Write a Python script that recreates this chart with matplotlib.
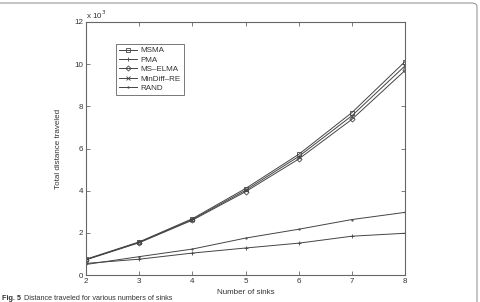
import matplotlib
matplotlib.use("Agg")
import matplotlib.pyplot as plt
from matplotlib.patches import FancyBboxPatch

plt.rcParams['font.family'] = ['Liberation Sans', 'DejaVu Sans']

sinks = [2, 3, 4, 5, 6, 7, 8]
msma = [0.75, 1.57, 2.67, 4.10, 5.72, 7.70, 10.12]
pma = [0.55, 0.75, 1.04, 1.28, 1.51, 1.84, 1.98]
ms_elma = [0.72, 1.53, 2.60, 3.95, 5.50, 7.38, 9.70]
mindiff_re = [0.73, 1.55, 2.63, 4.02, 5.62, 7.55, 9.92]
rand = [0.50, 0.87, 1.23, 1.75, 2.17, 2.63, 2.97]
yticks = [0, 2, 4, 6, 8, 10, 12]

W, H = 480, 302
fig = plt.figure(figsize=(W / 100, H / 100), dpi=100)
ax = fig.add_axes([86 / W, 1 - 275 / H, (405 - 86) / W, (275 - 22) / H])

lc = '#444444'
kw = dict(color=lc, lw=0.7, markersize=3, markeredgewidth=0.6, markerfacecolor='none')
ax.plot(sinks, msma, marker='s', label='MSMA', **kw)
ax.plot(sinks, pma, marker='+', label='PMA', **kw)
ax.plot(sinks, ms_elma, marker='D', label='MS\u2013ELMA', **dict(kw, markersize=2.6))
ax.plot(sinks, mindiff_re, marker='x', label='MinDiff\u2013RE', **dict(kw, markersize=2.4))
ax.plot(sinks, rand, marker='.', label='RAND', **dict(kw, markersize=2))

ax.set_xlim(2, 8)
ax.set_ylim(0, 12)
ax.set_yticks(yticks)
ax.set_xticks(sinks)
for s in ax.spines.values():
    s.set_color('#666666')
    s.set_linewidth(0.8)
ax.tick_params(direction='in', length=3, width=0.6, colors='#666666', labelsize=5.8,
               labelcolor='#333333', top=True, right=True, pad=2)
ax.text(0.0, 1.005, r'x 10$^3$', transform=ax.transAxes, fontsize=5.8, color='#333333',
        ha='left', va='bottom')
ax.set_xlabel('Number of sinks', fontsize=5.8, color='#333333', labelpad=3)
ax.set_ylabel('Total distance traveled', fontsize=5.8, color='#333333', labelpad=9)

leg = ax.legend(loc='upper left', bbox_to_anchor=((116 - 86) / (405 - 86), 1 - (44 - 22) / (275 - 22)),
                fontsize=5.8, frameon=True, fancybox=False, handlelength=2.3, handletextpad=0.4,
                labelspacing=0.22, borderpad=0.35, borderaxespad=0)
leg.get_frame().set_edgecolor('#555555')
leg.get_frame().set_linewidth(0.7)
for t in leg.get_texts():
    t.set_color('#333333')

frame = FancyBboxPatch((-20 / W, -20 / H), (477 + 20) / W, (299 + 20) / H,
                       boxstyle='round,pad=0,rounding_size=0.012', transform=fig.transFigure,
                       fill=False, edgecolor='#999999', lw=0.8)
fig.patches.append(frame)

t1 = fig.text(2 / W, 1 - 298 / H, 'Fig. 5', fontsize=5.2, fontweight='bold', color='#333333',
              ha='left', va='center')
fig.canvas.draw()
bb = t1.get_window_extent(fig.canvas.get_renderer())
fig.text((bb.x1 + 3) / W, 1 - 298 / H, 'Distance traveled for various numbers of sinks',
         fontsize=5.2, color='#333333', ha='left', va='center')

fig.savefig('out.png', dpi=100)
